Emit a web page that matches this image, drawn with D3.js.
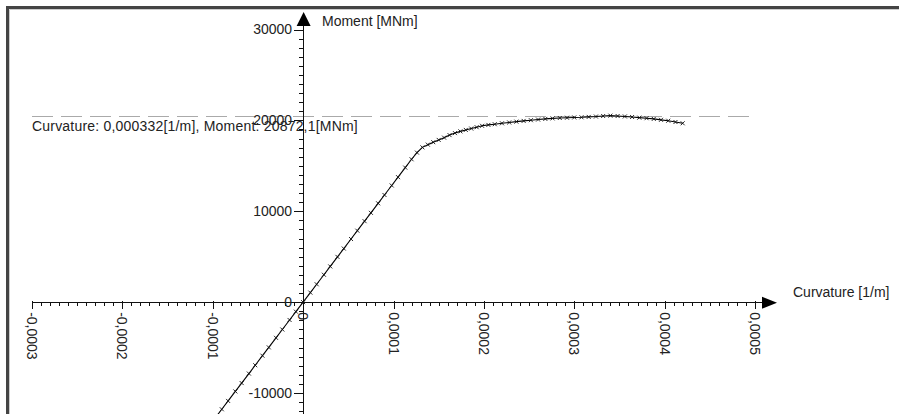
<!DOCTYPE html>
<html><head><meta charset="utf-8">
<script src="https://cdn.jsdelivr.net/npm/d3@7"></script>
<style>
html,body{margin:0;padding:0;background:#fff;overflow:hidden;}
text{font-family:"Liberation Sans",Arial,sans-serif;font-size:14px;fill:#222;}
</style></head>
<body>
<svg id="c" width="899" height="414"></svg>
<script>
// Data
const curvature = [-0.000098,-0.000090,-0.000083,-0.000075,-0.000068,-0.000060,-0.000053,-0.000045,-0.000038,-0.000030,-0.000023,-0.000015,-0.000008,0,
 0.000008,0.000015,0.000023,0.000030,0.000038,0.000045,0.000053,0.000060,0.000068,0.000075,0.000083,0.000090,0.000098,0.000105,0.000113,0.000120,0.000126,0.000132,
 0.000138,0.000144,0.000150,0.000156,0.000162,0.000168,0.000174,0.000180,0.000186,0.000192,0.000198,0.000205,0.000212,0.000220,0.000228,0.000236,0.000244,0.000252,
 0.000260,0.000268,0.000276,0.000284,0.000292,0.000300,0.000308,0.000316,0.000324,0.000332,0.000340,0.000348,0.000356,0.000364,0.000372,0.000380,0.000388,0.000396,
 0.000404,0.000412,0.000420];
const moment = [-12838,-11790,-10873,-9825,-8908,-7860,-6943,-5895,-4978,-3930,-3013,-1965,-1048,0,
 1048,1965,3013,3930,4978,5895,6943,7860,8908,9825,10873,11790,12838,13755,14803,15720,16450,17030,
 17330,17600,17850,18100,18380,18600,18790,18950,19100,19250,19400,19500,19580,19680,19770,19860,19940,20020,
 20090,20160,20220,20260,20290,20320,20340,20380,20420,20480,20520,20480,20430,20370,20300,20240,20160,20060,
 19960,19820,19680];
const xTickValues = [-0.0003,-0.0002,-0.0001,0,0.0001,0.0002,0.0003,0.0004,0.0005];
const yTickValues = [-10000,0,10000,20000,30000];
const refMoment = 20480;
const xTitle = "Curvature [1/m]";
const yTitle = "Moment [MNm]";
const cursorText = "Curvature: 0,000332[1/m], Moment: 20872,1[MNm]";

const svg = d3.select("#c");
const x = d3.scaleLinear().domain([-0.0003,0.0005]).range([32,755]);
const y = d3.scaleLinear().domain([-10000,30000]).range([393,29.5]);
const x0 = x(0), y0 = y(0);

// frame
svg.append("path").attr("d","M7.5,1000V7.5H1000").attr("fill","none").attr("stroke","#444").attr("stroke-width",3);
svg.append("path").attr("d","M9.5,1000V9.5H1000").attr("fill","none").attr("stroke","#ccc").attr("stroke-width",1);

// reference dashed line
svg.append("line").attr("x1",x(-0.0003)).attr("x2",757).attr("y1",Math.round(y(refMoment))+0.5).attr("y2",Math.round(y(refMoment))+0.5)
  .attr("stroke","#aaa").attr("stroke-width",1).attr("stroke-dasharray","21,8");

// x axis
const fmt = v => v===0 ? "0" : v.toFixed(4).replace(".",",");
const gx = svg.append("g");
gx.append("line").attr("x1",x(-0.0003)).attr("x2",770).attr("y1",Math.round(y0)+0.5).attr("y2",Math.round(y0)+0.5).attr("stroke","#111");
const xMinor = d3.range(-30,51).map(i=>i*0.00001);
gx.selectAll("line.mi").data(xMinor).join("line").attr("class","mi")
  .attr("x1",d=>Math.round(x(d))+0.5).attr("x2",d=>Math.round(x(d))+0.5)
  .attr("y1",Math.round(y0)).attr("y2",Math.round(y0)+4).attr("stroke","#111");
gx.selectAll("line.ma").data(xTickValues).join("line").attr("class","ma")
  .attr("x1",d=>Math.round(x(d))+0.5).attr("x2",d=>Math.round(x(d))+0.5)
  .attr("y1",Math.round(y0)-1).attr("y2",Math.round(y0)+7).attr("stroke","#111");
gx.selectAll("text").data(xTickValues).join("text")
  .attr("transform",d=>`translate(${x(d)},${y0+10}) rotate(90)`)
  .attr("dy","0.35em").attr("text-anchor","start").text(fmt);
svg.append("path").attr("d",`M${x(0.0005)+22},${y0+0.5}L${x(0.0005)+7},${y0-5.5}L${x(0.0005)+7},${y0+6.5}Z`).attr("fill","#000");
svg.append("text").attr("x",793).attr("y",y0-5).text(xTitle);

// y axis
const gy = svg.append("g");
gy.append("line").attr("x1",Math.round(x0)+0.5).attr("x2",Math.round(x0)+0.5).attr("y1",20).attr("y2",414).attr("stroke","#111");
const yMinor = d3.range(-12,31).map(i=>i*1000);
gy.selectAll("line.mi").data(yMinor).join("line").attr("class","mi")
  .attr("x1",Math.round(x0)-4).attr("x2",Math.round(x0))
  .attr("y1",d=>Math.round(y(d))+0.5).attr("y2",d=>Math.round(y(d))+0.5).attr("stroke","#111");
gy.selectAll("line.ma").data(yTickValues).join("line").attr("class","ma")
  .attr("x1",Math.round(x0)-9).attr("x2",Math.round(x0)+1)
  .attr("y1",d=>Math.round(y(d))+0.5).attr("y2",d=>Math.round(y(d))+0.5).attr("stroke","#111");
gy.selectAll("text").data(yTickValues).join("text")
  .attr("x",x0-11).attr("y",d=>y(d)).attr("dy","0.35em").attr("text-anchor","end").text(d=>String(d));
svg.append("path").attr("d",`M${x0+0.5},12L${x0+7.5},26L${x0-6.5},26Z`).attr("fill","#000");
svg.append("text").attr("x",322).attr("y",26).text(yTitle);

// curve
const pts = curvature.map((c,i)=>[c,moment[i]]);
svg.append("path").datum(pts).attr("fill","none").attr("stroke","#000").attr("stroke-width",1.1)
  .attr("d",d3.line().x(d=>x(d[0])).y(d=>y(d[1])));
svg.selectAll("path.mk").data(pts).join("path").attr("class","mk")
  .attr("transform",d=>`translate(${x(d[0])},${y(d[1])})`)
  .attr("d","M-2,-2L2,2M-2,2L2,-2").attr("stroke","#111").attr("stroke-width",0.9);

// cursor readout
svg.append("text").attr("x",32).attr("y",131).attr("letter-spacing","0.2px").text(cursorText);
</script>
</body></html>
